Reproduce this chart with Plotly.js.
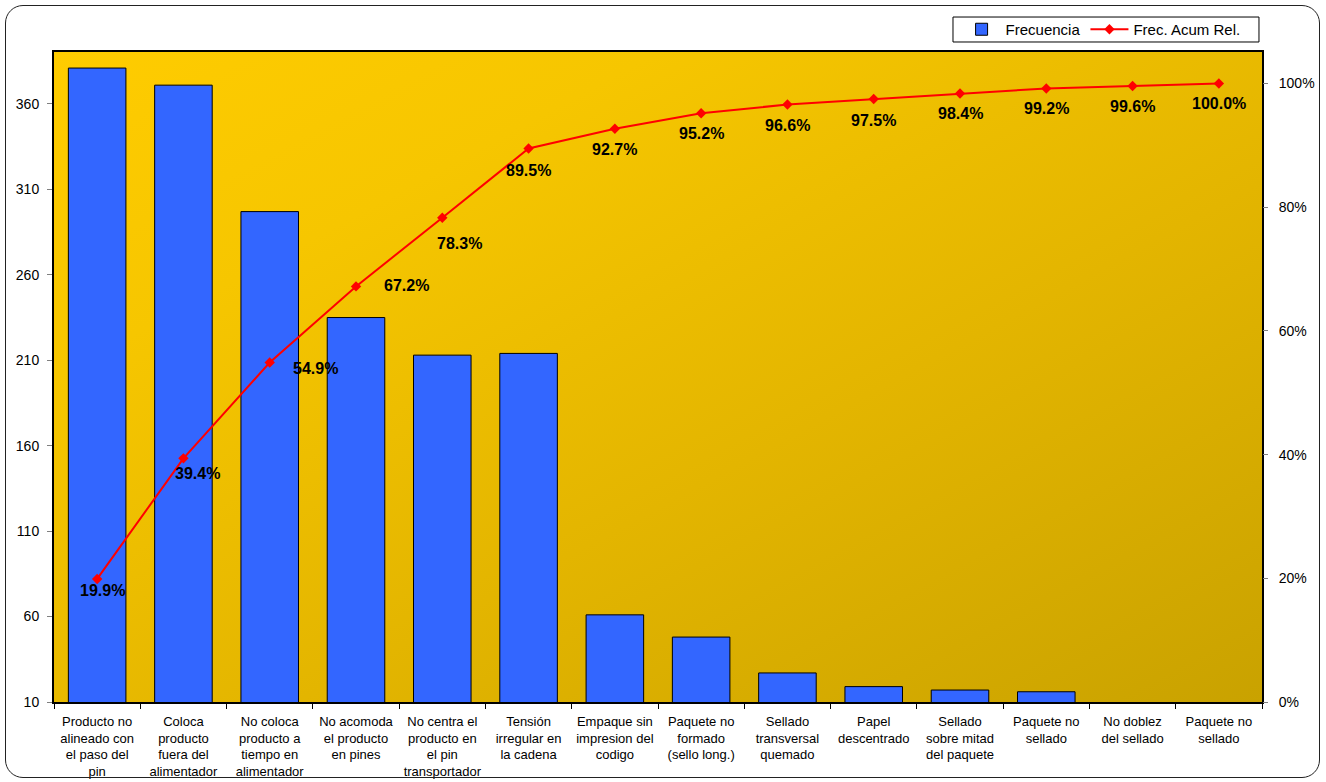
<!DOCTYPE html>
<html><head><meta charset="utf-8">
<script src="https://cdn.plot.ly/plotly-3.0.1.min.js"></script>
<style>
html,body{margin:0;padding:0;background:#fff;}
#bg{position:absolute;left:54px;top:52px;width:1208px;height:650px;background:linear-gradient(to bottom right,#FFCC00 0%,#F6C600 25%,#E3B500 60%,#C9A200 100%);z-index:0;}
#chart{position:absolute;left:0;top:0;width:1326px;height:782px;z-index:1;}
#frame{position:absolute;left:5px;top:5px;width:1313px;height:771px;border:1.5px solid #222;border-radius:18px;z-index:2;pointer-events:none;}
</style></head>
<body>
<div id="bg"></div><div id="chart"></div><div id="frame"></div>
<script>
// ---- data ----
const categories = [
  "Producto no<br>alineado con<br>el paso del<br>pin",
  "Coloca<br>producto<br>fuera del<br>alimentador",
  "No coloca<br>producto a<br>tiempo en<br>alimentador",
  "No acomoda<br>el producto<br>en pines",
  "No centra el<br>producto en<br>el pin<br>transportador",
  "Tensión<br>irregular en<br>la cadena",
  "Empaque sin<br>impresion del<br>codigo",
  "Paquete no<br>formado<br>(sello long.)",
  "Sellado<br>transversal<br>quemado",
  "Papel<br>descentrado",
  "Sellado<br>sobre mitad<br>del paquete",
  "Paquete no<br>sellado",
  "No doblez<br>del sellado",
  "Paquete no<br>sellado"
];
const frecuencia = [381, 371, 297, 235, 213, 214, 61, 48, 27, 19, 17, 16, 8, 8];
const frecAcumRel = [0.199, 0.394, 0.549, 0.672, 0.783, 0.895, 0.927, 0.952, 0.966, 0.975, 0.984, 0.992, 0.996, 1.000];
const leftTicks = [10, 60, 110, 160, 210, 260, 310, 360];
const rightTicks = [0, 0.2, 0.4, 0.6, 0.8, 1.0];

// ---- label placement (style) ----
const labelDx = [5, 14, 46, 50, 17, 0, 0, 0, 0, 0, 0, 0, 0, 0];
const labelDy = [-12, -15, -6, 1, -26, -22, -21, -20, -21, -21, -20, -20, -20, -20];

const idx = categories.map((_, i) => i);
const font = "Liberation Sans, Arial, sans-serif";

const traces = [
  {
    type: "bar", name: "Frecuencia", x: idx, y: frecuencia, yaxis: "y",
    marker: {color: "#3366FF", line: {color: "#000000", width: 1}},
    hoverinfo: "y"
  },
  {
    type: "scatter", mode: "lines+markers", name: "Frec. Acum Rel.", x: idx, y: frecAcumRel, yaxis: "y2",
    line: {color: "#FF0000", width: 2},
    marker: {symbol: "diamond", size: 8, color: "#FF0000"}
  }
];

const annotations = frecAcumRel.map((v, i) => ({
  x: idx[i], y: v, xref: "x", yref: "y2",
  text: (v * 100).toFixed(1) + "%",
  showarrow: false, xshift: labelDx[i], yshift: labelDy[i],
  font: {family: font, size: 16, color: "#000", weight: "bold"}
}));

const layout = {
  width: 1326, height: 782,
  margin: {l: 54, r: 64, t: 52, b: 80},
  paper_bgcolor: "rgba(0,0,0,0)", plot_bgcolor: "rgba(0,0,0,0)",
  font: {family: font, size: 14, color: "#000"},
  bargap: 0.333,
  showlegend: true,
  legend: {
    orientation: "h", x: 0.748, xanchor: "left", y: 1.0346, yanchor: "middle",
    bgcolor: "rgba(0,0,0,0)", borderwidth: 0, itemwidth: 38,
    font: {family: font, size: 15, color: "#000"}
  },
  shapes: [{
    type: "rect", xref: "paper", yref: "paper", layer: "below",
    x0: 0.7442, x1: 0.9975, y0: 1.0154, y1: 1.0538,
    fillcolor: "#ffffff", line: {color: "#000000", width: 1}
  }],
  xaxis: {
    range: [-0.5, 13.5], tickmode: "array", tickvals: idx, ticktext: categories,
    ticks: "", showgrid: false, zeroline: false,
    showline: true, mirror: true, linecolor: "#000", linewidth: 2,
    tickfont: {family: font, size: 13, color: "#000"}, ticklabelstandoff: 6,
    minor: {tick0: -0.5, dtick: 1, ticks: "outside", ticklen: 5, tickcolor: "#000", tickwidth: 1, showgrid: false},
    fixedrange: true
  },
  yaxis: {
    range: [10, 390.4], tickmode: "array", tickvals: leftTicks,
    ticks: "outside", ticklen: 5, tickcolor: "#808080", showgrid: false, zeroline: false,
    showline: true, mirror: true, linecolor: "#000", linewidth: 2,
    tickfont: {family: font, size: 14, color: "#000"}, ticklabelstandoff: 5
  },
  yaxis2: {
    overlaying: "y", side: "right", range: [0, 1.051], tickmode: "array", tickvals: rightTicks,
    tickformat: ".0%", ticks: "outside", ticklen: 5, tickcolor: "#808080",
    showgrid: false, zeroline: false, showline: false,
    tickfont: {family: font, size: 14, color: "#000"}, ticklabelstandoff: 8
  },
  annotations: annotations
};

Plotly.newPlot("chart", traces, layout, {displayModeBar: false, staticPlot: true});
</script>
</body></html>
